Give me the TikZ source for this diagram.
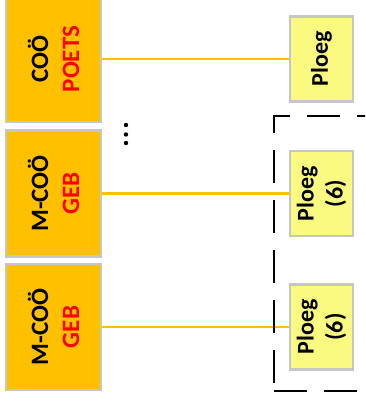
\documentclass[tikz,border=0pt]{standalone}
\usepackage{fontspec}
\setmainfont{Carlito}
\usepackage{xcolor}
\definecolor{cooorange}{HTML}{FFC000}
\definecolor{boxgrey}{HTML}{C6C6C6}
\definecolor{ploegyellow}{HTML}{FAFA80}
\definecolor{tagred}{HTML}{FF0000}

\tikzset{
    coobox/.style={rectangle,draw=boxgrey,line width=2.2pt,fill=cooorange,rotate=90,minimum width=126pt,minimum height=95pt,inner sep=0pt,align=center,font=\bfseries\fontsize{25}{31}\selectfont},
    ploegbox/.style={rectangle,draw=boxgrey,line width=2.2pt,fill=ploegyellow,rotate=90,minimum width=85pt,minimum height=63pt,inner sep=0pt,align=center,font=\bfseries\fontsize{24}{29}\selectfont},
    link/.style={draw=cooorange,line width=2.4pt}
}

\begin{document}
\begin{tikzpicture}[x=1pt,y=-1pt]
            \useasboundingbox (0,0) rectangle (365,401);
            \clip (0,0) rectangle (365,401);

            \node[coobox] (coo1) at (53.5, 59) {CO\"O\\\textcolor{tagred}{POETS}};
            \node[coobox] (coo2) at (53.5, 193.5) {M-CO\"O\\\textcolor{tagred}{GEB}};
            \node[coobox] (coo3) at (53.5, 327) {M-CO\"O\\\textcolor{tagred}{GEB}};

            \node[ploegbox] (ploeg1) at (321.5, 59) {Ploeg};
            \node[ploegbox] (ploeg2) at (321.5, 193.5) {Ploeg\\(6)};
            \node[ploegbox] (ploeg3) at (321.5, 327) {Ploeg\\(6)};

            \draw[link] (coo1.south) -- (ploeg1.north);
            \draw[link] (coo2.south) -- (ploeg2.north);
            \draw[link] (coo3.south) -- (ploeg3.north);

            \fill (126, 125) circle (2.2);
            \fill (126, 134.5) circle (2.2);
            \fill (126, 143) circle (2.2);

            \draw[line width=1.8pt,dash pattern=on 33pt off 17pt] (274, 391) -- (369.5, 391) -- (369.5, 116) -- (274, 116) -- cycle;
        \end{tikzpicture}
\end{document}
